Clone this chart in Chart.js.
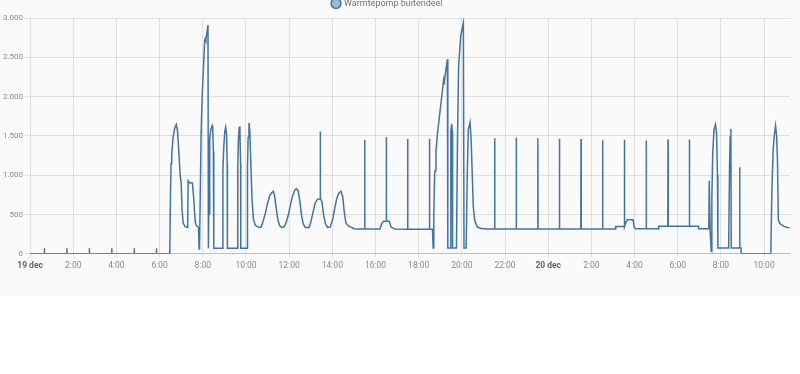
<!DOCTYPE html>
<html>
<head>
<meta charset="utf-8">
<script src="https://cdn.jsdelivr.net/npm/chart.js@4.4.1/dist/chart.umd.min.js"></script>
<style>
  html, body { margin: 0; padding: 0; background: #fff; }
  body { width: 800px; height: 374px; overflow: hidden; position: relative; }
  #card { position: absolute; left: 0; top: 0; width: 800px; height: 296px; background: #fafafa; }
  #wrap { position: absolute; left: 0; top: -5px; width: 800px; height: 280px; }
</style>
</head>
<body>
<div id="card"></div>
<div id="wrap"><canvas id="powerChart"></canvas></div>
<script>
// hours since 19 dec 00:00
const times = [
  0, 0.66, 0.665, 0.67, 1.70, 1.705, 1.71, 2.74, 2.745, 2.75, 3.78, 3.785, 3.79,
  4.82, 4.825, 4.83, 5.85, 5.855, 5.86, 6.47,
  6.5, 6.53, 6.56, 6.62, 6.7, 6.77, 6.83, 6.9, 6.95, 7.0, 7.04, 7.09, 7.18, 7.3,
  7.32, 7.4, 7.52, 7.58, 7.65, 7.72, 7.8, 7.83, 7.85, 7.88, 7.92, 7.97, 8.02, 8.09,
  8.12, 8.14, 8.24, 8.26, 8.29, 8.31, 8.33, 8.37, 8.43, 8.46, 8.49, 8.51,
  8.9, 8.93, 8.97, 9.02, 9.06, 9.1, 9.13, 9.14,
  9.6, 9.62, 9.65, 9.69, 9.72, 9.75, 9.76,
  10.05, 10.07, 10.1, 10.14, 10.18, 10.23, 10.28, 10.34, 10.42, 10.52, 10.62, 10.7,
  10.8, 10.9, 11.0, 11.1, 11.2, 11.27, 11.33, 11.4, 11.48, 11.56, 11.65, 11.75, 11.85,
  11.95, 12.05, 12.15, 12.25, 12.33, 12.42, 12.5, 12.58, 12.66, 12.75, 12.92,
  13.0, 13.1, 13.2, 13.3, 13.43, 13.44, 13.45, 13.52, 13.6, 13.68, 13.78, 13.9,
  14.0, 14.1, 14.2, 14.3, 14.4, 14.48, 14.55, 14.63, 14.75, 14.87, 15.0, 15.2,
  15.49, 15.5, 15.51, 16.2, 16.3, 16.37, 16.49, 16.5, 16.51, 16.64, 16.72, 16.9,
  17.48, 17.49, 17.5, 18.49, 18.5, 18.51, 18.64,
  18.67, 18.7, 18.74, 18.76, 18.8, 18.87, 18.95, 19.05, 19.15, 19.17, 19.25, 19.33, 19.35,
  19.47, 19.49, 19.53, 19.55, 19.57, 19.75, 19.8, 19.85, 19.95, 20.07, 20.1,
  20.2, 20.25, 20.3, 20.38, 20.43, 20.47, 20.53, 20.6, 20.72, 20.9, 21.2,
  21.51, 21.52, 21.53, 22.51, 22.52, 22.53, 23.51, 23.52, 23.53, 24.51, 24.52, 24.53,
  25.51, 25.52, 25.53, 26.51, 26.52, 26.53, 27.11, 27.13, 27.52, 27.53, 27.54,
  27.6, 27.67, 27.93, 27.99, 28.06, 28.53, 28.54, 28.55, 29.1, 29.12,
  29.54, 29.55, 29.56, 30.53, 30.54, 30.55, 30.95, 30.97, 31.42,
  31.44, 31.46, 31.5, 31.55, 31.58, 31.62, 31.68, 31.75, 31.8, 31.84, 31.86,
  32.36, 32.4, 32.43, 32.46, 32.48, 32.86, 32.87, 32.88, 32.93, 32.94,
  34.31, 34.36, 34.42, 34.47, 34.53, 34.58, 34.62, 34.66, 34.75, 34.95, 35.17
];
const watts = [
  0, 0, 70, 0, 0, 70, 0, 0, 70, 0, 0, 70, 0,
  0, 70, 0, 0, 70, 0, 0,
  700, 1150, 1250, 1480, 1600, 1645, 1560, 1250, 1000, 900, 560, 390, 345, 335,
  930, 900, 900, 700, 400, 350, 335, 60, 90, 700, 1500, 2000, 2300, 2720,
  2740, 2720, 2910, 70, 900, 500, 1450, 1580, 1630, 1580, 1300, 70,
  70, 1050, 1350, 1560, 1610, 1520, 1150, 70,
  70, 1100, 1450, 1620, 1540, 1150, 70,
  70, 1100, 1480, 1665, 1560, 1100, 700, 450, 370, 345, 335, 340,
  420, 520, 640, 740, 780, 795, 730, 580, 430, 360, 335, 340, 390,
  480, 610, 730, 805, 830, 800, 660, 480, 375, 335, 335,
  400, 520, 640, 690, 700, 1555, 710, 660, 490, 385, 335, 340,
  420, 560, 700, 770, 795, 730, 540, 390, 355, 340, 320, 316,
  316, 1450, 316, 316, 390, 415, 415, 1485, 415, 415, 340, 316,
  312, 1460, 312, 312, 1460, 312, 312,
  73, 500, 1020, 1060, 1300, 1530, 1720, 1960, 2200, 2150, 2320, 2475, 73,
  73, 1555, 1655, 1560, 73, 73, 1500, 2390, 2775, 2936, 73,
  73, 1000, 1580, 1670, 1450, 1100, 600, 420, 340, 322, 316,
  316, 1470, 316, 316, 1480, 316, 316, 1470, 316, 316, 1465, 316,
  316, 1460, 316, 316, 1445, 316, 316, 346, 346, 1450, 346,
  400, 432, 432, 335, 320, 320, 1440, 320, 320, 350,
  350, 1455, 350, 350, 1455, 350, 350, 320, 320,
  380, 930, 300, 30, 700, 1280, 1580, 1645, 1520, 1000, 73,
  73, 1110, 1490, 1590, 73, 73, 1100, 73, 73, 0,
  0, 800, 1320, 1500, 1630, 1500, 1190, 430, 380, 346, 329
];
const tickHours = [0, 2, 4, 6, 8, 10, 12, 14, 16, 18, 20, 22, 24, 26, 28, 30, 32, 34];
const tickLabels = ['19 dec', '2:00', '4:00', '6:00', '8:00', '10:00', '12:00', '14:00', '16:00',
  '18:00', '20:00', '22:00', '20 dec', '2:00', '4:00', '6:00', '8:00', '10:00'];

Chart.defaults.font.family = 'Roboto';

const points = times.map((t, i) => ({ x: t, y: watts[i] }));

function dutchNumber(v) {
  return String(v).replace(/\B(?=(\d{3})+(?!\d))/g, '.');
}

// legend sits a bit left of centre in the original
const legendShift = {
  id: 'legendShift',
  afterLayout(chart) {
    chart.legend.left -= 8;
    chart.legend.right -= 8;
  }
};

const ctx = document.getElementById('powerChart').getContext('2d');
const powerChart = new Chart(ctx, {
  type: 'line',
  data: {
    datasets: [{
      label: 'Warmtepomp buitendeel',
      data: points,
      borderColor: '#44739e',
      backgroundColor: 'rgba(68, 115, 158, 0.5)',
      borderWidth: 1.5,
      pointRadius: 0,
      tension: 0,
      fill: false
    }]
  },
  options: {
    responsive: true,
    maintainAspectRatio: false,
    animation: false,
    layout: { padding: { left: 1, right: 10, top: 0, bottom: 1 } },
    plugins: {
      legend: {
        position: 'top',
        labels: {
          usePointStyle: true,
          pointStyle: 'circle',
          boxWidth: 7,
          boxHeight: 7,
          padding: 4,
          color: '#737373',
          font: { size: 9 }
        }
      },
      tooltip: { enabled: false }
    },
    scales: {
      x: {
        type: 'linear',
        min: 0,
        max: 35.2,
        afterBuildTicks: axis => { axis.ticks = tickHours.map(v => ({ value: v })); },
        grid: { color: 'rgba(0,0,0,0.1)', tickLength: 4 },
        border: { color: 'rgba(0,0,0,0.15)' },
        ticks: {
          autoSkip: false,
          maxRotation: 0,
          padding: 3,
          color: ctx => (ctx.tick && ctx.tick.value % 24 === 0) ? '#666' : '#8a8a8a',
          font: ctx => ({ size: 8.5, weight: (ctx.tick && ctx.tick.value % 24 === 0) ? 'bold' : 'normal' }),
          callback: (v) => tickLabels[tickHours.indexOf(v)]
        }
      },
      y: {
        min: 0,
        max: 3000,
        grid: { color: 'rgba(0,0,0,0.1)', tickLength: 5 },
        border: { display: false },
        ticks: {
          stepSize: 500,
          padding: 2,
          color: '#8a8a8a',
          font: { size: 8 },
          callback: v => dutchNumber(v)
        }
      }
    }
  },
  plugins: [legendShift]
});
</script>
</body>
</html>
